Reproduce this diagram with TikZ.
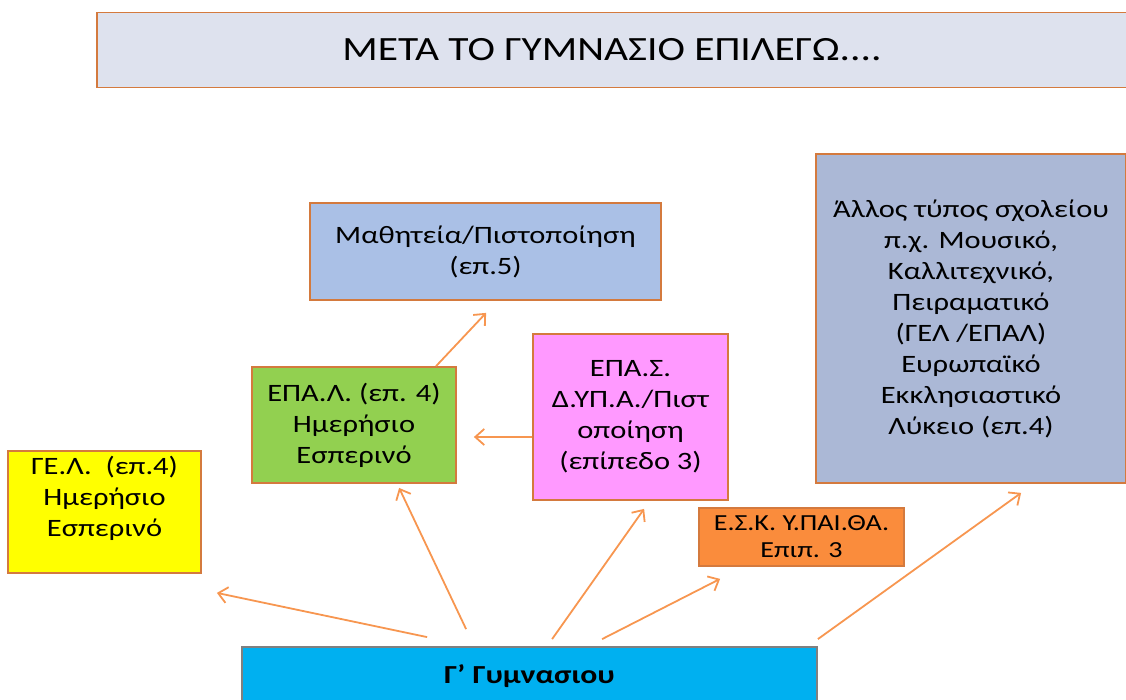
\documentclass[tikz,border=0pt]{standalone}
\usepackage{fontspec}
\setmainfont{Carlito}[FakeStretch=1.22]
\usetikzlibrary{arrows.meta}
\usetikzlibrary{calc}

\definecolor{boxline}{RGB}{212,122,62}
\definecolor{arrowline}{RGB}{247,150,80}
\definecolor{titlefill}{RGB}{222,226,238}
\definecolor{mathfill}{RGB}{170,192,230}
\definecolor{allosfill}{RGB}{171,184,214}
\definecolor{epalfill}{RGB}{146,208,80}
\definecolor{epasfill}{RGB}{255,153,255}
\definecolor{gelfill}{RGB}{255,255,0}
\definecolor{eskfill}{RGB}{250,140,60}
\definecolor{gymfill}{RGB}{0,176,240}

\begin{document}
\begin{tikzpicture}[x=0.5pt,y=-0.5pt,
    box/.style={draw=boxline, line width=0.9pt, align=center, inner sep=0pt,
      font=\fontsize{12.5}{15.5}\selectfont},
    conn/.style={arrowline, line width=0.9pt, -{Straight Barb[length=4.5pt,width=8pt]}}]
    \clip (0,0) rectangle (1126,700);

    % boxes
    \node[box, fill=titlefill, minimum width=515pt, minimum height=37.5pt,
      font=\fontsize{17}{20}\selectfont] (title) at (612,50) {ΜΕΤΑ ΤΟ ΓΥΜΝΑΣΙΟ ΕΠΙΛΕΓΩ....};
    \node[box, fill=mathfill, minimum width=175.5pt, minimum height=48.5pt] (math) at (485.5,251.5)
      {Μαθητεία/Πιστοποίηση\\(επ.5)};
    \node[box, fill=epalfill, minimum width=102pt, minimum height=58pt] (epal) at (354,425)
      {ΕΠΑ.Λ. (επ. 4)\\Ημερήσιο\\Εσπερινό};
    \node[box, fill=epasfill, minimum width=97.5pt, minimum height=83pt] (epas) at (630.5,417)
      {ΕΠΑ.Σ.\\Δ.ΥΠ.Α./Πιστ\\οποίηση\\(επίπεδο 3)};
    \node[box, fill=gelfill, minimum width=96.5pt, minimum height=61pt] (gel) at (104.5,512)
      {ΓΕ.Λ.\ \ (επ.4)\\Ημερήσιο\\Εσπερινό\\ };
    \node[box, fill=eskfill, minimum width=102.5pt, minimum height=29pt,
      font=\fontsize{11.5}{13.5}\selectfont] (esk) at (801.5,537)
      {Ε.Σ.Κ. Υ.ΠΑΙ.ΘΑ.\\Επιπ. 3};
    \node[box, fill=allosfill, minimum width=155pt, minimum height=164.5pt] (allos) at (971,318.5)
      {Άλλος τύπος σχολείου\\π.χ. Μουσικό,\\Καλλιτεχνικό,\\Πειραματικό\\(ΓΕΛ /ΕΠΑΛ)\\Ευρωπαϊκό\\Εκκλησιαστικό\\Λύκειο (επ.4)};
    \node[box, draw=gray, fill=gymfill, minimum width=287.5pt, minimum height=29pt,
      font=\fontsize{13}{15}\selectfont\bfseries] (gym) at (529.5,676) {Γ’ Γυμνασιου};

    % free ends
    \coordinate (g1) at ($(gym.north west)+(186,-9)$);
    \coordinate (g2) at ($(gym.north west)+(225,-17)$);
    \coordinate (g3) at ($(gym.north west)+(311,-7)$);
    \coordinate (g4) at ($(gym.north west)+(361,-7)$);
    \coordinate (g5) at ($(gym.north east)+(0,-7)$);
    \coordinate (tgel) at ($(gel.south east)+(15,19)$);
    \coordinate (tepal) at ($(epal.south west)+(148,4)$);
    \coordinate (tepas) at ($(epas.south west)+(112,8)$);
    \coordinate (tesk) at ($(esk.south west)+(22,12)$);
    \coordinate (tallos) at ($(allos.south west)+(206,9)$);
    \coordinate (tmath) at ($(math.south west)+(177,12)$);

    % arrows
    \draw[conn] (g1) -- (tgel);
    \draw[conn] (g2) -- (tepal);
    \draw[conn] (g3) -- (tepas);
    \draw[conn] (g4) -- (tesk);
    \draw[conn] (g5) -- (tallos);
    \draw[conn] ($(epal.north west)+(185,0)$) -- (tmath);
    \draw[conn] (epas.west |- 0,437) -- ($(epal.east |- 0,437)+(17,0)$);
\end{tikzpicture}
\end{document}
